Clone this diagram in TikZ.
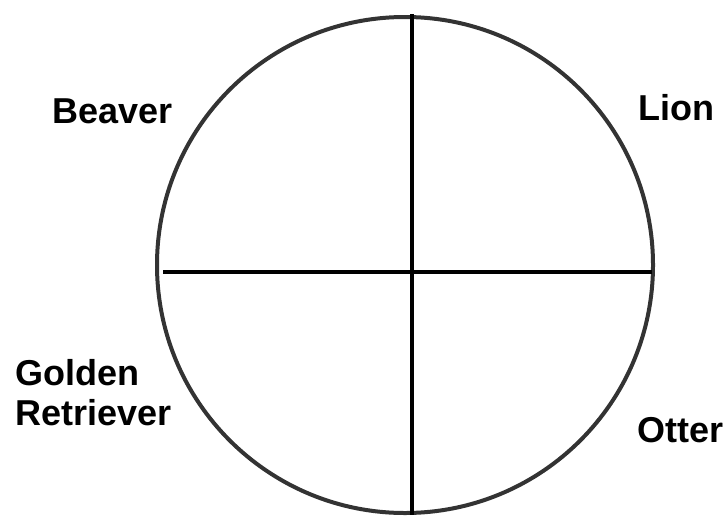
\documentclass[tikz,border=0pt]{standalone}
\usepackage{fontspec}
\setmainfont{Liberation Sans}
\usepackage{tikz}

\tikzset{
  animal/.style={font=\bfseries\fontsize{27}{30}\selectfont, inner sep=0pt, align=left},
  rim/.style={line width=3pt, draw=black!80},
  cross/.style={line width=3.6pt, black}
}

\begin{document}
\begin{tikzpicture}[x=0.75pt,y=-0.75pt]
\useasboundingbox (0,0) rectangle (727,518);

% Circle
\coordinate (centre) at (405,265);
\draw[rim] (centre) circle (248);

% Lines
\coordinate (top) at (412,14);
\coordinate (bottom) at (412,515);
\coordinate (left) at (163,272);
\coordinate (right) at (652,272);
\draw[cross] (top) -- (bottom);
\draw[cross] (left) -- (right);

% Labels
\node[animal, anchor=base east] (beaver) at (173,123) {Beaver};
\node[animal, anchor=base west] (lion) at (638,120) {Lion};
\node[animal, anchor=base west] (golden) at (15,425) {Golden\\Retriever};
\node[animal, anchor=base west] (otter) at (637,442) {Otter};

\end{tikzpicture}
\end{document}
